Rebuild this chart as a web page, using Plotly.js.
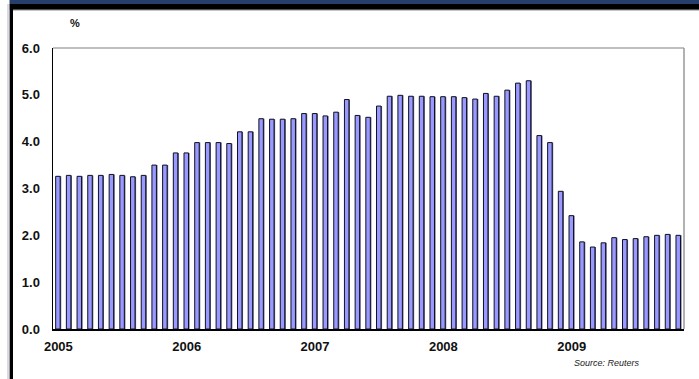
<!DOCTYPE html>
<html>
<head>
<meta charset="utf-8">
<script src="https://cdn.plot.ly/plotly-3.0.1.min.js"></script>
<style>html,body{margin:0;padding:0;background:#fff;}#chart{width:699px;height:379px;}</style>
</head>
<body>
<div id="chart"></div>
<script>
// Monthly values, Jan 2005 - Nov 2009 (%)
var months = [];
for (var i = 0; i < 59; i++) { months.push(i); }
var values = [
  3.26, 3.28, 3.26, 3.28, 3.28, 3.30, 3.28, 3.25, 3.28, 3.50, 3.50, 3.76,
  3.76, 3.98, 3.98, 3.98, 3.96, 4.21, 4.21, 4.49, 4.48, 4.48, 4.49, 4.60,
  4.60, 4.55, 4.63, 4.90, 4.56, 4.52, 4.76, 4.97, 4.99, 4.97, 4.97, 4.96,
  4.96, 4.96, 4.94, 4.91, 5.03, 4.97, 5.10, 5.25, 5.30, 4.13, 3.98, 2.94,
  2.42, 1.86, 1.75, 1.84, 1.95, 1.91, 1.93, 1.97, 2.00, 2.02, 2.00
];
var yearTickPos = [0, 12, 24, 36, 48];
var yearLabels = ["2005", "2006", "2007", "2008", "2009"];
var yTickVals = [0, 1, 2, 3, 4, 5, 6];
var yTickText = ["0.0", "1.0", "2.0", "3.0", "4.0", "5.0", "6.0"];

var W = 699, H = 379, L = 53, R = 684, T = 47.5, B = 329;
function px(x) { return (x - L) / (R - L); }
function py(y) { return (B - y) / (B - T); }

var font = "Liberation Sans, Arial, sans-serif";

var shadow = {
  type: 'bar', x: months, y: values, width: 0.46, offset: -0.19,
  marker: { color: '#5a5a7a', line: { width: 0 } },
  hoverinfo: 'skip', showlegend: false
};
var bars = {
  type: 'bar', x: months, y: values, width: 0.42, offset: -0.25,
  marker: { color: '#9999ff', line: { color: '#111122', width: 1 } },
  showlegend: false
};

var layout = {
  width: W, height: H,
  margin: { l: L, r: W - R, t: T, b: H - B, pad: 0 },
  paper_bgcolor: '#ffffff', plot_bgcolor: '#ffffff',
  barmode: 'overlay',
  xaxis: {
    type: 'linear', range: [-0.5, 58.5], tickmode: 'array',
    tickvals: yearTickPos, ticktext: yearLabels,
    showgrid: false, zeroline: false, showline: true, linecolor: '#000', linewidth: 1.5,
    ticks: '', ticklabelstandoff: 5,
    tickfont: { family: font, size: 13, color: '#111', weight: 'bold' }
  },
  yaxis: {
    range: [0, 6], tickmode: 'array', tickvals: yTickVals, ticktext: yTickText,
    showgrid: false, zeroline: false, showline: true, linecolor: '#000', linewidth: 1.5,
    ticks: '', ticklabelstandoff: 9,
    tickfont: { family: font, size: 13, color: '#111', weight: 'bold' }
  },
  shapes: [
    { type: 'rect', xref: 'paper', yref: 'paper', x0: px(9.5), x1: px(705), y0: py(3.5), y1: py(-5), fillcolor: '#253f6a', line: { width: 0 }, layer: 'above' },
    { type: 'rect', xref: 'paper', yref: 'paper', x0: px(9.5), x1: px(705), y0: py(9.2), y1: py(3.5), fillcolor: '#000000', line: { width: 0 }, layer: 'above' },
    { type: 'line', xref: 'paper', yref: 'paper', x0: px(13), x1: px(705), y0: py(9.8), y1: py(9.8), line: { color: '#bbbbbb', width: 1 }, layer: 'above' },
    { type: 'rect', xref: 'paper', yref: 'paper', x0: px(7), x1: px(9.7), y0: py(385), y1: py(3.5), fillcolor: '#dcd8e6', line: { width: 0 }, layer: 'above' },
    { type: 'rect', xref: 'paper', yref: 'paper', x0: px(9.7), x1: px(13), y0: py(385), y1: py(3.5), fillcolor: '#000000', line: { width: 0 }, layer: 'above' },
    { type: 'line', xref: 'paper', yref: 'paper', x0: 0, x1: 1, y0: 1, y1: 1, line: { color: '#aaaaaa', width: 1.5 } },
    { type: 'line', xref: 'paper', yref: 'paper', x0: 1, x1: 1, y0: 0, y1: 1, line: { color: '#999999', width: 1.5 } }
  ],
  annotations: [
    { xref: 'paper', yref: 'paper', x: px(75), y: py(22), text: '%', showarrow: false,
      xanchor: 'center', yanchor: 'middle', font: { family: font, size: 11, color: '#111', weight: 'bold' } },
    { xref: 'paper', yref: 'paper', x: px(642), y: py(363.5), text: 'Source: Reuters', showarrow: false,
      xanchor: 'right', yanchor: 'middle', font: { family: font, size: 9, color: '#222', style: 'italic' } }
  ]
};

Plotly.newPlot('chart', [shadow, bars], layout, { staticPlot: true, displayModeBar: false });
</script>
</body>
</html>
